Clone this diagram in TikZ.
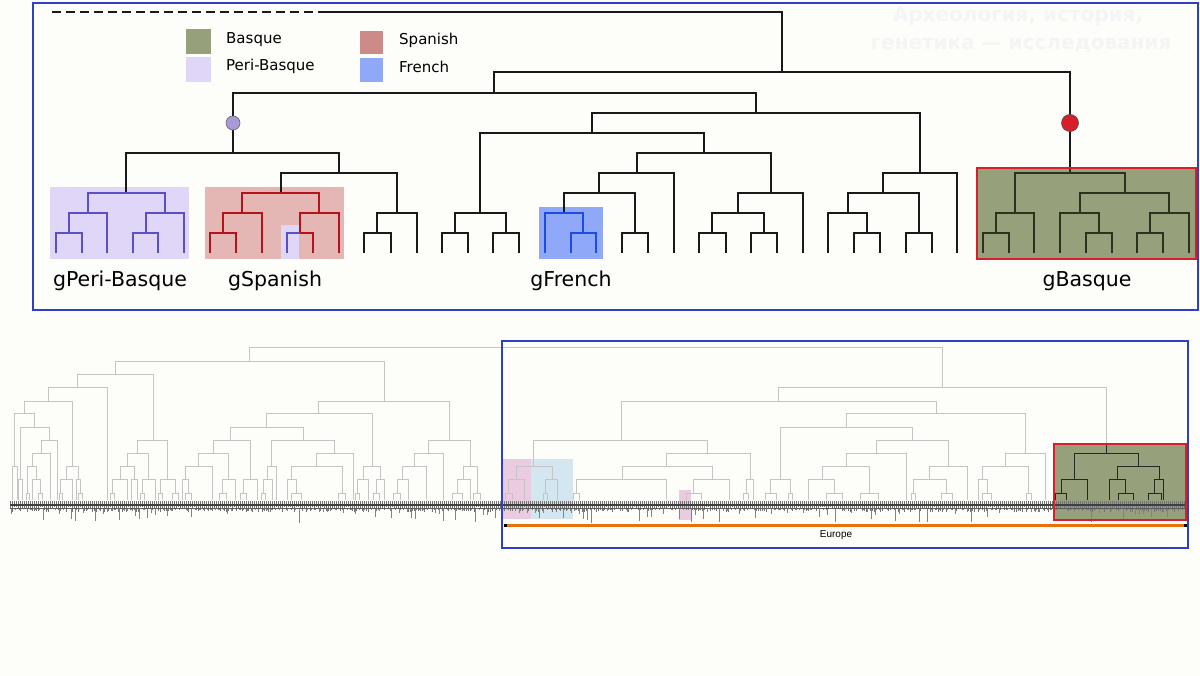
\documentclass[tikz,border=0pt]{standalone}
\usepackage{fontspec}
\setmainfont{DejaVu Sans}
\newfontfamily\arialfont{Liberation Sans}
\usetikzlibrary{positioning}

\definecolor{bgcol}{HTML}{FDFDFA}
\definecolor{boxblue}{HTML}{2F3FC8}
\definecolor{basquecol}{HTML}{96A07A}
\definecolor{pericol}{HTML}{E0D7F8}
\definecolor{spanishcol}{HTML}{CC8A88}
\definecolor{spanishbox}{HTML}{E4B7B5}
\definecolor{frenchcol}{HTML}{8FA9F8}
\definecolor{perline}{HTML}{5B4FC4}
\definecolor{spline}{HTML}{B3141C}
\definecolor{frline}{HTML}{1E4AE6}
\definecolor{bqline}{HTML}{2A3320}
\definecolor{redcirc}{HTML}{D81E2A}
\definecolor{purcirc}{HTML}{A99AD8}
\definecolor{faintgray}{HTML}{C4C4C4}
\definecolor{bandgray}{HTML}{5A5A5A}
\definecolor{eurorange}{HTML}{E8700E}
\definecolor{pinkhl}{HTML}{EACBDF}
\definecolor{bluehl}{HTML}{D4E7F0}

% one elbow of a dendrogram: child (x1,y1), child (x2,y2), joined at height y
\newcommand{\elbow}[6][]{\draw[#1] (#2,#3) |- (#4,#6) -- (#4,#5);}

\begin{document}
\begin{tikzpicture}[
		x=1pt, y=-1pt,
		tree/.style={line width=1.8pt, black!90},
		peri/.style={line width=1.4pt, perline},
		spanish/.style={line width=1.4pt, spline},
		french/.style={line width=1.4pt, frline},
		basque/.style={line width=1.4pt, bqline},
		faint/.style={line width=0.9pt, faintgray},
		dark/.style={line width=1pt, black!85},
		frame/.style={draw=boxblue, line width=1.8pt},
		swatch/.style={rectangle, minimum width=25pt, minimum height=25pt, inner sep=0pt},
		legend/.style={font=\fontsize{15}{17}\selectfont, anchor=base west, inner sep=0pt},
		lbl/.style={font=\fontsize{20.5}{24}\selectfont, anchor=base, inner sep=0pt},
		dot/.style={circle, inner sep=0pt, line width=0.6pt},
		wmark/.style={font=\bfseries\fontsize{20}{24}\selectfont, text=black!4, anchor=base},
	]
	\useasboundingbox (0,0) rectangle (1200,676);
	\fill[bgcol] (0,0) rectangle (1200,676);

	% ---------- upper tree ----------
	\node[wmark] (wm1) at (1018,22) {Археология, история,};
	\node[wmark] (wm2) at (1021,50) {генетика — исследования};

	\fill[pericol] (50,187) rectangle (189,259);
	\fill[spanishbox] (205,187) rectangle (344,259);
	\fill[pericol] (281,225) rectangle (299,259);
	\fill[frenchcol] (539,207) rectangle (603,259);
	\fill[basquecol] (977,168) rectangle (1196,259);

	\node[swatch, fill=basquecol] (swbasque) at (198.5,42) {};
	\node[swatch, fill=pericol] (swperi) at (198.5,69.5) {};
	\node[swatch, fill=spanishcol, minimum width=23pt, minimum height=23pt] (swspanish) at (371.5,42.5) {};
	\node[swatch, fill=frenchcol, minimum width=23pt, minimum height=24pt] (swfrench) at (371.5,70) {};
	\node[legend] (tbasque) at (226,44) {Basque};
	\node[legend] (tperi) at (226,71) {Peri-Basque};
	\node[legend] (tspanish) at (399,45) {Spanish};
	\node[legend] (tfrench) at (399,73) {French};

	\draw[tree, dash pattern=on 9pt off 5pt] (52,12) -- (320,12);
	\draw[tree] (320,12) -| (782,72);

	\foreach \xa/\ya/\xb/\yb/\yy in {126/193/339/173/153, 281/193/397/213/173,
		364/253/391/253/233, 377/233/417/253/213, 233/153/756/113/93,
		442/253/468/253/233, 493/253/519/253/233, 455/233/506/233/213,
		622/253/648/253/233, 564/213/635/233/193, 599/193/674/253/173,
		699/253/726/253/233, 751/253/777/253/233, 712/233/764/233/213,
		738/213/803/253/193, 637/173/771/193/153, 480/213/704/153/133,
		854/253/880/253/233, 828/253/867/233/213, 906/253/932/253/233,
		848/213/919/233/193, 883/193/957/253/173, 592/133/920/173/113,
		494/93/1070/168/72}
		{\elbow[tree]{\xa}{\ya}{\xb}{\yb}{\yy}}

	\foreach \xa/\ya/\xb/\yb/\yy in {56/253/82/253/233, 69/233/107/253/213,
		133/253/158/253/233, 146/233/184/253/213, 88/213/165/213/193}
		{\elbow[peri]{\xa}{\ya}{\xb}{\yb}{\yy}}

	\foreach \xa/\ya/\xb/\yb/\yy in {210/253/236/253/233, 223/233/262/253/213,
		300/233/339/253/213, 242/213/319/213/193}
		{\elbow[spanish]{\xa}{\ya}{\xb}{\yb}{\yy}}
	\draw[peri] (287,253) |- (300,233);
	\draw[spanish] (300,233) -| (313,253);

	\foreach \xa/\ya/\xb/\yb/\yy in {571/253/596/253/233, 545/253/583/233/213}
		{\elbow[french]{\xa}{\ya}{\xb}{\yb}{\yy}}

	\foreach \xa/\ya/\xb/\yb/\yy in {983/253/1009/253/233, 996/233/1034/253/213,
		1086/253/1112/253/233, 1060/253/1099/233/213, 1137/253/1163/253/233,
		1150/233/1189/253/213, 1080/213/1169/213/193, 1015/213/1125/193/173}
		{\elbow[basque]{\xa}{\ya}{\xb}{\yb}{\yy}}
	\draw[basque] (1070,168) -- (1070,173);
	\draw[draw=redcirc, line width=1.5pt] (977,168) rectangle (1196,259);

	\node[dot, draw=black!60, fill=purcirc, minimum size=14pt] (cperi) at (233,123) {};
	\node[dot, draw=black!70, fill=redcirc, minimum size=17pt] (cbasque) at (1070,123) {};

	\node[lbl] (gperi) at (120,287) {gPeri-Basque};
	\node[lbl] (gspanish) at (275,287) {gSpanish};
	\node[lbl] (gfrench) at (571,287) {gFrench};
	\node[lbl] (gbasque) at (1087,287) {gBasque};

	\draw[frame] (33,3) rectangle (1198,310);

	% ---------- lower tree ----------
	\fill[pinkhl] (503,459) rectangle (531,519);
	\fill[bluehl] (531,459) rectangle (573,519);
	\fill[pinkhl] (679,490) rectangle (691,520);
	\fill[basquecol] (1054,444) rectangle (1186,520);

	\foreach \xa/\ya/\xb/\yb/\yy in {249/361/942/387/347, 115/374/384/401/361,
		77/387/153/440/374, 48/401/107/500/387, 24/413/72/466/401,
		14/466/34/427/413, 12/500/17/500/466, 20/479/49/440/427,
		18/500/22/500/479, 41/453/57/500/440, 32/466/50/500/453,
		27/493/36/479/466, 26/500/29/500/493, 32/500/40/493/479,
		38/500/42/500/493, 66/479/78/479/466, 60/493/72/500/479,
		59/500/62/500/493, 76/500/80/493/479, 78/500/82/500/493,
		137/453/167/479/440, 127/466/148/479/453, 120/479/134/479/466,
		112/493/127/500/479, 110/500/114/500/493, 131/500/137/500/479,
		142/493/155/500/479, 140/500/144/500/493, 160/493/175/493/479,
		158/500/162/500/493, 172/500/178/500/493, 318/413/449/440/401,
		266/427/372/466/413, 230/440/303/440/427, 213/453/250/479/440,
		198/466/228/479/453, 185/479/212/500/466, 182/500/188/493/479,
		185/500/191/500/493, 222/493/235/500/479, 219/500/226/500/493,
		243/493/257/500/479, 240/500/246/500/493, 271/466/334/453/440,
		267/479/276/500/466, 263/493/272/500/479, 261/500/265/500/493,
		316/466/353/500/453, 291/479/342/493/466, 287/500/296/493/479,
		291/500/301/500/493, 338/500/345/500/493, 363/479/380/479/466,
		357/493/368/500/479, 355/500/359/500/493, 376/493/384/500/479,
		373/500/379/500/493, 428/453/470/466/440, 414/466/443/500/453,
		402/479/426/500/466, 397/493/408/500/479, 393/500/400/500/493,
		463/479/477/493/466, 457/493/470/500/479, 452/500/462/500/493,
		473/500/480/500/493,
		778/401/1106/444/387, 621/440/936/413/401, 533/466/707/453/440,
		516/479/552/479/466, 508/493/524/500/479, 505/500/512/500/493,
		545/493/557/500/479, 543/500/547/500/493, 666/466/750/479/453,
		622/479/712/479/466, 576/493/666/500/479, 573/500/579/500/493,
		693/493/729/500/479, 686/500/701/500/493, 746/493/753/500/479,
		743/500/748/500/493, 846/427/1025/453/413, 780/479/912/440/427,
		770/493/790/493/479, 765/500/776/500/493, 788/500/792/500/493,
		876/453/948/466/440, 846/466/906/500/453, 822/479/869/493/466,
		808/500/834/493/479, 826/500/842/500/493, 860/500/878/500/493,
		929/479/967/500/466, 913/493/946/493/479, 911/500/915/500/493,
		941/500/952/500/493, 1005/466/1045/500/453, 982/479/1028/493/466,
		978/500/987/493/479, 982/500/991/500/493, 1026/500/1031/500/493}
		{\elbow[faint]{\xa}{\ya}{\xb}{\yb}{\yy}}

	\foreach \xa/\ya/\xb/\yb/\yy in {1074/479/1138/466/453, 1061/493/1087/500/479,
		1055/500/1066/500/493, 1117/479/1159/479/466, 1109/500/1125/493/479,
		1118/500/1133/500/493, 1154/493/1163/500/479, 1148/500/1161/500/493}
		{\elbow[dark]{\xa}{\ya}{\xb}{\yb}{\yy}}
	\draw[dark] (1106,444) -- (1106,453);

	% leaf band
	\pgfmathsetseed{17}
	\foreach \i in {0,...,587}
		{\draw[bandgray!85, line width=0.9pt] (10+2*\i,501) -- ++(0,{6+5*rnd});}
	\foreach \i in {0,...,293}
		{\draw[bandgray!75, line width=0.6pt] (11+4*\i,509) -- ++(0,{14*rnd^4});}
	\draw[bandgray!70!black, line width=1.2pt] (10,505) -- (1186,505);
	\draw[bandgray, line width=0.6pt] (10,508.5) -- (1186,508.5);

	\draw[draw=redcirc, line width=1.5pt] (1054,444) rectangle (1186,520);

	\coordinate (eurL) at (505,525);
	\coordinate (eurR) at (1186,525);
	\draw[eurorange, line width=3pt] (eurL) -- (eurR);
	\fill[black] (504,523.5) rectangle (507,526.5);
	\fill[black] (1184,523.5) rectangle (1187,526.5);
	\node[font=\arialfont\fontsize{10}{12}\selectfont, inner sep=0pt] (europe) at (836,535) {Europe};

	\draw[frame] (502,341) rectangle (1188,548);
\end{tikzpicture}
\end{document}
